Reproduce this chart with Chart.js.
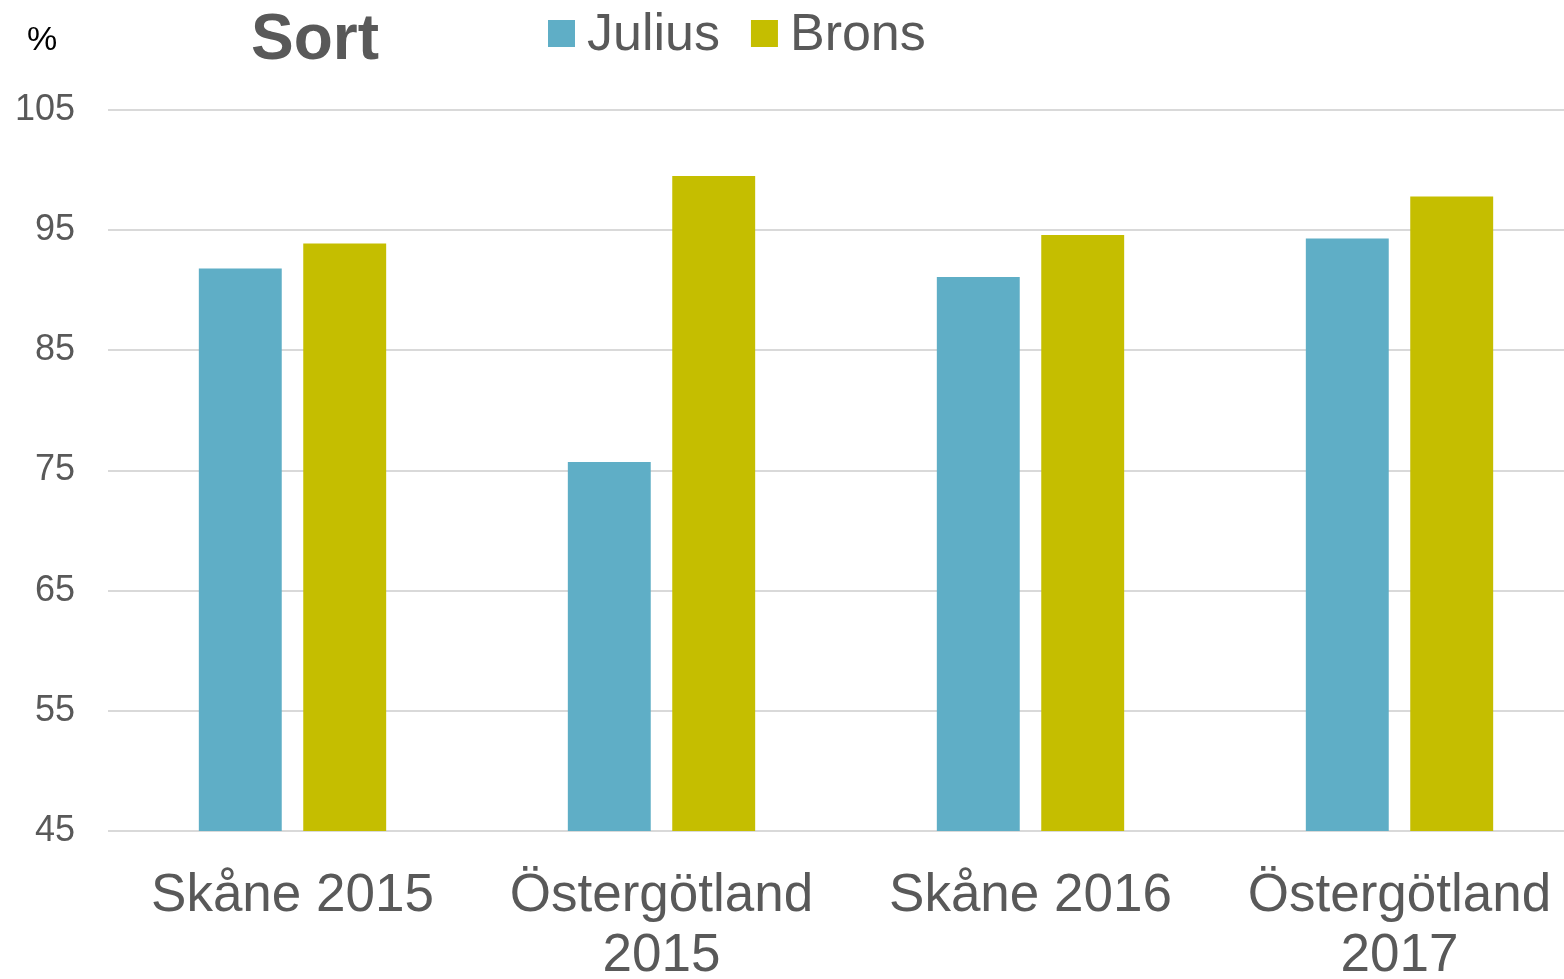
<!DOCTYPE html>
<html>
<head>
<meta charset="utf-8">
<script src="https://cdn.jsdelivr.net/npm/chart.js@4"></script>
<style>
  body { margin: 0; background: #fff; overflow: hidden; }
  /* plot runs a little past the right edge, as in the source image */
  #wrap { width: 1584px; height: 979px; position: relative; }
</style>
</head>
<body>
<div id="wrap"><canvas id="sortChart"></canvas></div>
<script>
const categories = ['Skåne 2015', ['Östergötland', '2015'], 'Skåne 2016', ['Östergötland', '2017']];
const juliusValues = [91.8, 75.7, 91.1, 94.3];
const bronsValues = [93.9, 99.5, 94.6, 97.8];
const yTicks = [45, 55, 65, 75, 85, 95, 105];

const textGray = '#595959';
const font = '"Liberation Sans", Arial, sans-serif';

// header: "%" unit, "Sort" title and the two legend entries
const headerPlugin = {
  id: 'header',
  afterDraw(chart) {
    const ctx = chart.ctx;
    ctx.save();
    ctx.textBaseline = 'alphabetic';
    ctx.fillStyle = '#000';
    ctx.font = '34px ' + font;
    ctx.fillText('%', 27, 50);

    ctx.fillStyle = textGray;
    ctx.font = 'bold 64px ' + font;
    ctx.fillText('Sort', 251, 59);

    ctx.font = '52px ' + font;
    let x = 548;
    chart.data.datasets.forEach(ds => {
      ctx.fillStyle = ds.backgroundColor;
      ctx.fillRect(x, 20, 27, 27);
      ctx.fillStyle = textGray;
      ctx.fillText(ds.label, x + 39, 50);
      x += 39 + ctx.measureText(ds.label).width + 31;
    });
    ctx.restore();
  }
};

const data = {
  labels: categories,
  datasets: [{
      label: 'Julius',
      data: juliusValues,
      backgroundColor: '#5FAEC6'
    }, {
      label: 'Brons',
      data: bronsValues,
      backgroundColor: '#C5BE00'
  }]
};

const config = {
  type: 'bar',
  data: data,
  options: {
    responsive: true,
    maintainAspectRatio: false,
    animation: false,
    categoryPercentage: 0.566,
    barPercentage: 0.794,
    layout: {
      padding: { top: 110, left: 12, right: 0, bottom: 0 }
    },
    plugins: {
      legend: { display: false },
      tooltip: { enabled: false }
    },
    scales: {
      x: {
        grid: { display: false, drawTicks: false },
        border: { display: false },
        afterFit: axis => {
          axis.height = 148;
          axis.paddingLeft = 0;
          axis.paddingRight = 0;
        },
        ticks: {
          color: textGray,
          font: { family: font, size: 53, lineHeight: 1.14 },
          padding: 35,
          maxRotation: 0,
          autoSkip: false
        }
      },
      y: {
        min: 45,
        max: 105,
        afterBuildTicks: axis => { axis.ticks = yTicks.map(v => ({ value: v })); },
        afterFit: axis => { axis.width = 96; },
        grid: { color: '#D9D9D9', lineWidth: 2, drawTicks: false },
        border: { display: false },
        ticks: {
          color: textGray,
          font: { family: font, size: 36 },
          padding: 33
        }
      }
    }
  },
  plugins: [headerPlugin]
};

const ctx = document.getElementById('sortChart').getContext('2d');
const sortChart = new Chart(ctx, config);
</script>
</body>
</html>
